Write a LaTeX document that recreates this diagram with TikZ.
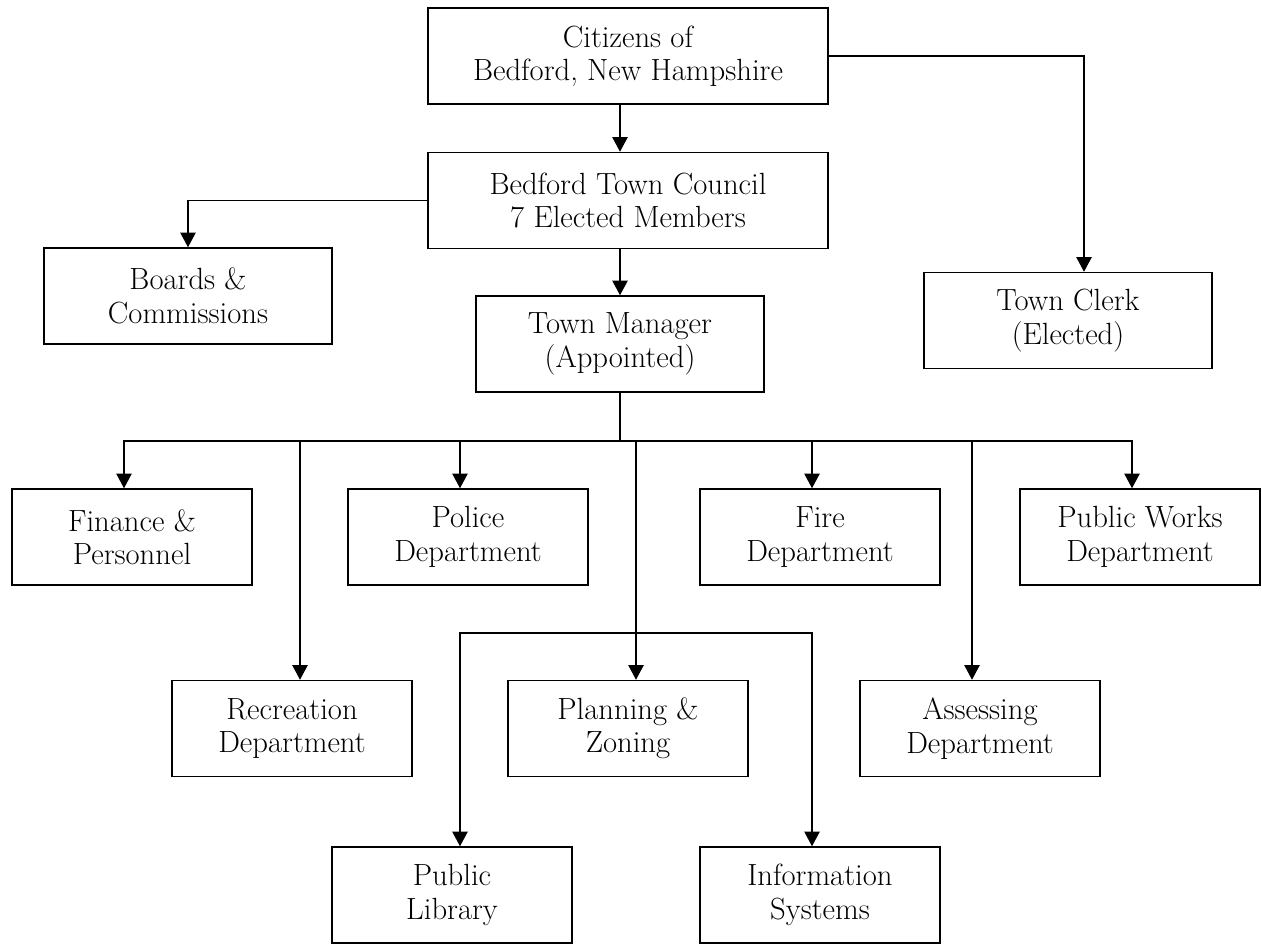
\documentclass[tikz,border=0pt]{standalone}
\usetikzlibrary{arrows.meta}

\tikzset{
  unit/.style={draw, line width=1.1pt, align=center, inner sep=0pt,
    minimum width=180pt, minimum height=72pt,
    font=\fontsize{23}{25}\selectfont},
  wide/.style={unit, minimum width=216pt},
  widest/.style={unit, minimum width=300pt},
  link/.style={line width=1.1pt},
  arr/.style={link, -{Triangle[length=11pt,width=11.5pt]}}
}

\begin{document}
\begin{tikzpicture}[x=0.75pt,y=-0.75pt]
            \useasboundingbox (0,0) rectangle (1262,944);

            \node[widest] (citizens) at (628,56) {Citizens of\\Bedford, New Hampshire};
            \node[widest] (council) at (628,200.5) {Bedford Town Council\\7 Elected Members};
            \node[wide] (boards) at (188,296) {Boards \&\\Commissions};
            \node[wide] (manager) at (620,344) {Town Manager\\(Appointed)};
            \node[wide] (clerk) at (1068,320.5) {Town Clerk\\(Elected)};

            \node[unit] (finance) at (132,537) {Finance \&\\Personnel};
            \node[unit] (police) at (468,537) {Police\\Department};
            \node[unit] (fire) at (820,537) {Fire\\Department};
            \node[unit] (works) at (1140,537) {Public Works\\Department};

            \node[unit] (recreation) at (292,728.5) {Recreation\\Department};
            \node[unit] (planning) at (628,728.5) {Planning \&\\Zoning};
            \node[unit] (assessing) at (980,728.5) {Assessing\\Department};

            \node[unit] (library) at (452,895) {Public\\Library};
            \node[unit] (infosys) at (820,895) {Information\\Systems};

            \coordinate (bus) at (620,441);
            \coordinate (fork) at (636,633);

            \draw[arr] (citizens.south -| manager.north) -- (council.north -| manager.north);
            \draw[arr] (council.south -| manager.north) -- (manager.north);
            \draw[arr] (council.west) -| (boards.north);
            \draw[arr] (citizens.east) -| ([xshift=12pt]clerk.north);
            \draw[link] (manager.south) -- (bus);

            % departments hang off the bus
            \foreach \n/\s in {finance/-6,police/-6,fire/-6,works/-6,recreation/6,planning/6,assessing/-6}{
              \coordinate (\n-in) at ([xshift=\s pt]\n.north);
              \draw[arr] (bus -| \n-in) -- (\n-in);
            }
            \draw[link, line cap=rect] (bus -| finance-in) -- (bus -| works-in);

            \coordinate (library-in) at ([xshift=6pt]library.north);
            \coordinate (infosys-in) at ([xshift=-6pt]infosys.north);
            \draw[arr] (fork) -| (library-in);
            \draw[arr] (fork) -| (infosys-in);
\end{tikzpicture}
\end{document}
